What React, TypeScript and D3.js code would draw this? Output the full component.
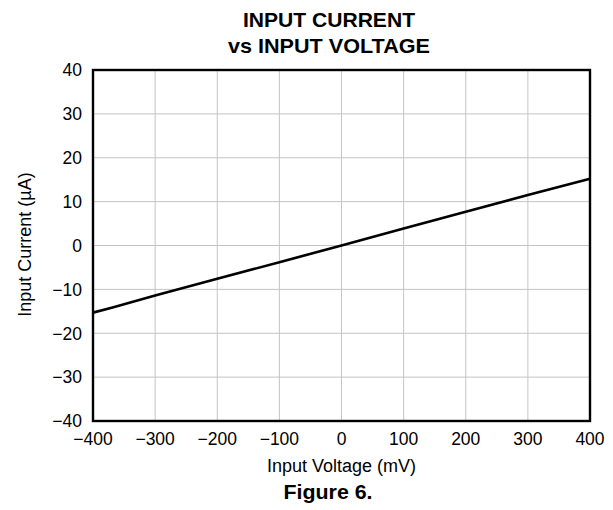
import * as d3 from 'd3';
import React, { useEffect, useRef } from 'react';

const voltage = [-400, -370, -300, -200, -100, 0, 100, 200, 300, 400];
const current = [-15.3, -14.2, -11.4, -7.6, -3.8, 0, 3.9, 7.7, 11.5, 15.2];
const xTicks = [-400, -300, -200, -100, 0, 100, 200, 300, 400];
const yTicks = [-40, -30, -20, -10, 0, 10, 20, 30, 40];
const titleLines = ['INPUT CURRENT', 'vs INPUT VOLTAGE'];

const fmt = (v: number) => (v < 0 ? '\u2212' + Math.abs(v) : String(v));

const App = () => {
   const ref = useRef<SVGSVGElement | null>(null);

   useEffect(() => {
      const svg = d3.select(ref.current);
      svg.selectAll('*').remove();

      const margin = { top: 70, right: 23, bottom: 89, left: 93 };
      const width = 613;
      const height = 510;
      const innerWidth = width - margin.left - margin.right;
      const innerHeight = height - margin.top - margin.bottom;
      const font = 'Liberation Sans, Arial, sans-serif';
      // title block sits a little left of the plot centre
      const titleX = 329;

      const x = d3.scaleLinear().domain([-400, 400]).range([0, innerWidth]);
      const y = d3.scaleLinear().domain([-40, 40]).range([innerHeight, 0]);

      const g = svg
         .append('g')
         .attr('transform', `translate(${margin.left},${margin.top})`);

      // grid
      g.selectAll('line.vx')
         .data(xTicks.slice(1, -1))
         .enter()
         .append('line')
         .attr('x1', (d) => x(d))
         .attr('x2', (d) => x(d))
         .attr('y1', 0)
         .attr('y2', innerHeight)
         .attr('stroke', '#c4c4c4')
         .attr('stroke-width', 1);
      g.selectAll('line.hy')
         .data(yTicks.slice(1, -1))
         .enter()
         .append('line')
         .attr('x1', 0)
         .attr('x2', innerWidth)
         .attr('y1', (d) => y(d))
         .attr('y2', (d) => y(d))
         .attr('stroke', '#c4c4c4')
         .attr('stroke-width', 1);

      // curve
      const line = d3
         .line<number>()
         .x((_, i) => x(voltage[i]))
         .y((d) => y(d));
      g.append('path')
         .datum(current)
         .attr('fill', 'none')
         .attr('stroke', '#000')
         .attr('stroke-width', 2.6)
         .attr('d', line);

      // frame
      g.append('rect')
         .attr('width', innerWidth)
         .attr('height', innerHeight)
         .attr('fill', 'none')
         .attr('stroke', '#000')
         .attr('stroke-width', 2.4);

      // tick labels
      g.selectAll('text.xt')
         .data(xTicks)
         .enter()
         .append('text')
         .attr('x', (d) => x(d))
         .attr('y', innerHeight + 24)
         .attr('text-anchor', 'middle')
         .attr('font-family', font)
         .attr('font-size', 17.5)
         .text((d) => fmt(d));
      g.selectAll('text.yt')
         .data(yTicks)
         .enter()
         .append('text')
         .attr('x', -11)
         .attr('y', (d) => y(d))
         .attr('dy', '0.36em')
         .attr('text-anchor', 'end')
         .attr('font-family', font)
         .attr('font-size', 17.5)
         .text((d) => fmt(d));

      // axis titles
      g.append('text')
         .attr('x', innerWidth / 2)
         .attr('y', innerHeight + 51)
         .attr('text-anchor', 'middle')
         .attr('font-family', font)
         .attr('font-size', 18)
         .text('Input Voltage (mV)');
      g.append('text')
         .attr('transform', `translate(${-62},${innerHeight / 2 - 1}) rotate(-90)`)
         .attr('text-anchor', 'middle')
         .attr('font-family', font)
         .attr('font-size', 18)
         .text('Input Current (\u00b5A)');

      // title
      const titleWidths = [172, 202];
      titleLines.forEach((t, i) => {
         svg.append('text')
            .attr('x', titleX)
            .attr('y', 27 + i * 26)
            .attr('text-anchor', 'middle')
            .attr('font-family', font)
            .attr('font-weight', 'bold')
            .attr('font-size', 20.5)
            .attr('textLength', titleWidths[i])
            .attr('lengthAdjust', 'spacingAndGlyphs')
            .text(t);
      });

      svg.append('text')
         .attr('x', 328)
         .attr('y', 499)
         .attr('text-anchor', 'middle')
         .attr('font-family', font)
         .attr('font-weight', 'bold')
         .attr('font-size', 20.5)
         .attr('textLength', 89)
         .attr('lengthAdjust', 'spacingAndGlyphs')
         .text('Figure 6.');
   }, []);

   return (
      <svg
         ref={ref}
         width={613}
         height={510}
         style={{ position: 'absolute', left: 0, top: 0, background: '#fff' }}
      />
   );
};

export default App;
